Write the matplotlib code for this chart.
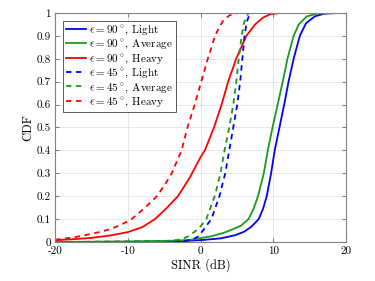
import numpy as np
import matplotlib
matplotlib.use("Agg")
import matplotlib.pyplot as plt

plt.rcParams["font.family"] = "serif"
plt.rcParams["font.serif"] = ["cmr10", "DejaVu Serif"]
plt.rcParams["mathtext.fontset"] = "cm"
plt.rcParams["axes.unicode_minus"] = False

# CDF curves (SINR in dB, CDF value)
l90_x = [-20, -10, -3, 0.4, 2.8, 4.8, 6.0, 7.0, 8.0, 8.6, 9.1, 9.7, 10.2, 10.85, 11.5, 12.1, 12.8, 13.65, 14.5, 15.7, 17, 19]
l90_y = [0.0, 0.001, 0.003, 0.009, 0.016, 0.03, 0.045, 0.067, 0.1, 0.145, 0.2, 0.3, 0.4, 0.5, 0.6, 0.7, 0.8, 0.9, 0.955, 0.985, 0.997, 1.0]

a90_x = [-20, -10, -5, -1.5, 1.5, 3.2, 4.4, 5.6, 6.6, 7.3, 7.9, 8.7, 9.25, 9.9, 10.6, 11.3, 11.95, 12.8, 13.5, 14.6, 16, 18]
a90_y = [0.0, 0.002, 0.004, 0.009, 0.025, 0.04, 0.055, 0.072, 0.1, 0.145, 0.2, 0.3, 0.4, 0.5, 0.6, 0.7, 0.8, 0.9, 0.95, 0.985, 0.997, 1.0]

h90_x = [-20, -17.5, -15, -12.5, -10, -8, -6.25, -4.6, -3.1, -1.5, 0, 0.6, 1.85, 2.9, 3.8, 4.9, 6.3, 7.5, 8.6, 9.6, 11]
h90_y = [0.008, 0.012, 0.018, 0.028, 0.043, 0.065, 0.1, 0.15, 0.2, 0.28, 0.37, 0.4, 0.5, 0.6, 0.7, 0.8, 0.9, 0.95, 0.98, 0.995, 1.0]

l45_x = [-20, -5, -2, -1.0, -0.3, 0.35, 0.9, 1.5, 2.6, 3.4, 3.95, 4.5, 5.05, 5.45, 5.75, 6.05, 6.35, 6.8]
l45_y = [0.0, 0.002, 0.005, 0.012, 0.025, 0.05, 0.075, 0.1, 0.2, 0.3, 0.4, 0.5, 0.6, 0.7, 0.8, 0.9, 0.96, 1.0]

a45_x = [-20, -10, -6, -3.7, -2.4, -1.5, -0.6, 0.1, 0.8, 1.95, 2.75, 3.3, 3.95, 4.5, 4.92, 5.25, 5.65, 6.0, 6.6]
a45_y = [0.0, 0.002, 0.004, 0.006, 0.014, 0.028, 0.05, 0.072, 0.1, 0.2, 0.3, 0.4, 0.5, 0.6, 0.7, 0.8, 0.9, 0.96, 1.0]

h45_x = [-20, -17.5, -15, -12.5, -11, -9.46, -7.8, -6.0, -4.9, -3.96, -2.6, -1.8, -0.8, 0.1, 1.0, 2.0, 2.6, 3.2, 4.0, 5.2]
h45_y = [0.01, 0.02, 0.035, 0.055, 0.074, 0.1, 0.145, 0.2, 0.25, 0.3, 0.4, 0.5, 0.6, 0.7, 0.8, 0.9, 0.94, 0.97, 0.99, 1.0]

labels = [r"$\epsilon = 90^\circ$, Light", r"$\epsilon = 90^\circ$, Average", r"$\epsilon = 90^\circ$, Heavy",
          r"$\epsilon = 45^\circ$, Light", r"$\epsilon = 45^\circ$, Average", r"$\epsilon = 45^\circ$, Heavy"]

xticks = [-20, -10, 0, 10, 20]
xticklabels = ["-20", "-10", "0", "10", "20"]
yticks = [0, 0.1, 0.2, 0.3, 0.4, 0.5, 0.6, 0.7, 0.8, 0.9, 1]
yticklabels = ["0", "0.1", "0.2", "0.3", "0.4", "0.5", "0.6", "0.7", "0.8", "0.9", "1"]

blue = "#0000ff"
green = "#1a9a1a"
red = "#ff0000"

fig = plt.figure(figsize=(3.75, 2.81), dpi=100)
ax = fig.add_axes([0.1467, 0.1388, 0.776, 0.815])

curves = [(l90_x, l90_y, blue, "-"), (a90_x, a90_y, green, "-"), (h90_x, h90_y, red, "-"),
          (l45_x, l45_y, blue, "--"), (a45_x, a45_y, green, "--"), (h45_x, h45_y, red, "--")]
for (x, y, c, ls), lab in zip(curves, labels):
    if ls == "--":
        ax.plot(x, y, color=c, linewidth=1.3, label=lab, dashes=(3, 2.5))
    else:
        ax.plot(x, y, color=c, linewidth=1.3, label=lab)

ax.set_xlim(-20, 20)
ax.set_ylim(0, 1)
ax.set_xticks(xticks)
ax.set_xticklabels(xticklabels)
ax.set_yticks(yticks)
ax.set_yticklabels(yticklabels)
ax.tick_params(direction="in", top=True, right=True, length=3, color="#808080", labelsize=8, pad=3)
for s in ax.spines.values():
    s.set_color("#808080")
    s.set_linewidth(0.8)
ax.grid(True, color="#e3e3e3", linewidth=0.6)
ax.set_axisbelow(True)
ax.set_xlabel("SINR (dB)", fontsize=9, labelpad=2)
ax.set_ylabel("CDF", fontsize=9, labelpad=2)

leg = ax.legend(loc="upper left", fontsize=8, frameon=True, fancybox=False, framealpha=1,
                edgecolor="#404040", borderpad=0.25, labelspacing=0.1, handlelength=1.8,
                handletextpad=0.3, borderaxespad=0.7)
leg.get_frame().set_linewidth(0.6)

fig.savefig("out.png", dpi=100)
